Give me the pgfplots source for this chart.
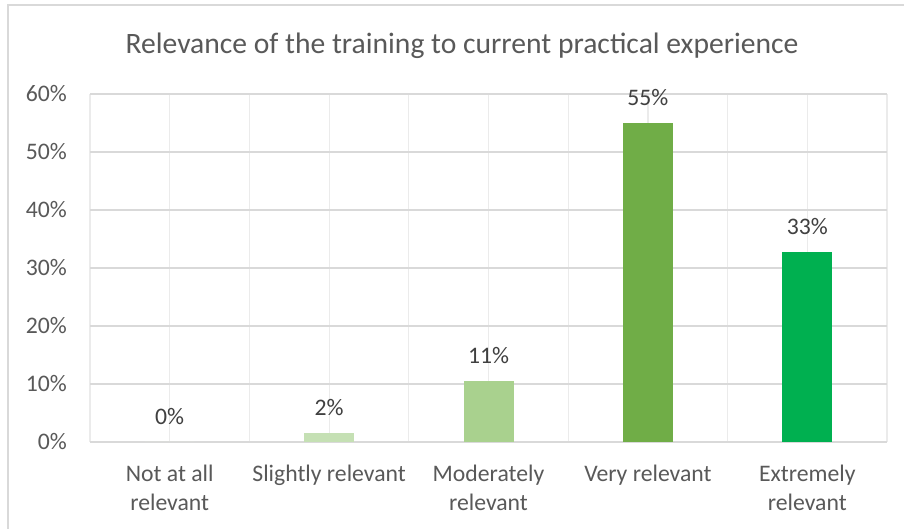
\documentclass[border=0pt]{standalone}
\usepackage{pgfplots}
\pgfplotsset{compat=1.18}
\usepackage{fontspec}
\setmainfont{Carlito}
\definecolor{txt}{HTML}{595959}
\definecolor{lbl}{HTML}{404040}
\definecolor{gridc}{HTML}{D9D9D9}
\definecolor{vgrid}{HTML}{EBEBEB}
\definecolor{c1}{HTML}{E2F0D9}
\definecolor{c2}{HTML}{C5E0B4}
\definecolor{c3}{HTML}{A9D18E}
\definecolor{c4}{HTML}{70AD47}
\definecolor{c5}{HTML}{00B050}
\begin{document}
\begin{tikzpicture}[x=1pt,y=1pt]
\useasboundingbox (0,0) rectangle (904,529);
\fill[white] (0,0) rectangle (904,529);
\draw[gridc, line width=1.2pt] (8,0) -- (8,524) -- (910,524);
\node[txt, font=\fontsize{29.6}{34}\selectfont] at (462,483) {Relevance of the training to current practical experience};
\begin{axis}[
  at={(90pt,87pt)}, anchor=south west,
  scale only axis, width=797pt, height=348pt,
  xmin=-0.5, xmax=4.5, ymin=0, ymax=60,
  axis line style={draw=none},
  xtick={0,1,2,3,4},
  minor xtick={-0.5,0.5,1.5,2.5,3.5,4.5},
  xticklabels={{Not at all\\relevant},{Slightly relevant},{Moderately\\relevant},{Very relevant},{Extremely\\relevant}},
  ytick={0,10,20,30,40,50,60},
  yticklabels={0\%,10\%,20\%,30\%,40\%,50\%,60\%},
  major tick length=0pt, minor tick length=0pt,
  xmajorgrids, xminorgrids, ymajorgrids,
  major grid style={gridc, line width=1.2pt},
  minor grid style={vgrid, line width=1.2pt},
  x grid style={vgrid, line width=1.2pt},
  y grid style={gridc, line width=1.4pt},
  ticklabel style={txt, font=\fontsize{23.7}{28.5}\selectfont, inner sep=0pt},
  xticklabel style={align=center, yshift=-23pt},
  yticklabel style={xshift=-23pt},
  ybar, bar width=50pt, bar shift=0pt,
  nodes near coords={\pgfmathprintnumber[fixed,precision=0,assume math mode=true]{\pgfplotspointmeta}\%},
  nodes near coords style={lbl, font=\fontsize{23.7}{28.5}\selectfont, anchor=base, inner sep=0pt, yshift=17pt},
  axis on top=false,
]
\addplot[fill=c1, draw=none] coordinates {(0,0)};
\addplot[fill=c2, draw=none] coordinates {(1,1.6)};
\addplot[fill=c3, draw=none] coordinates {(2,10.6)};
\addplot[fill=c4, draw=none] coordinates {(3,55.0)};
\addplot[fill=c5, draw=none] coordinates {(4,32.8)};
\end{axis}
\end{tikzpicture}
\end{document}
